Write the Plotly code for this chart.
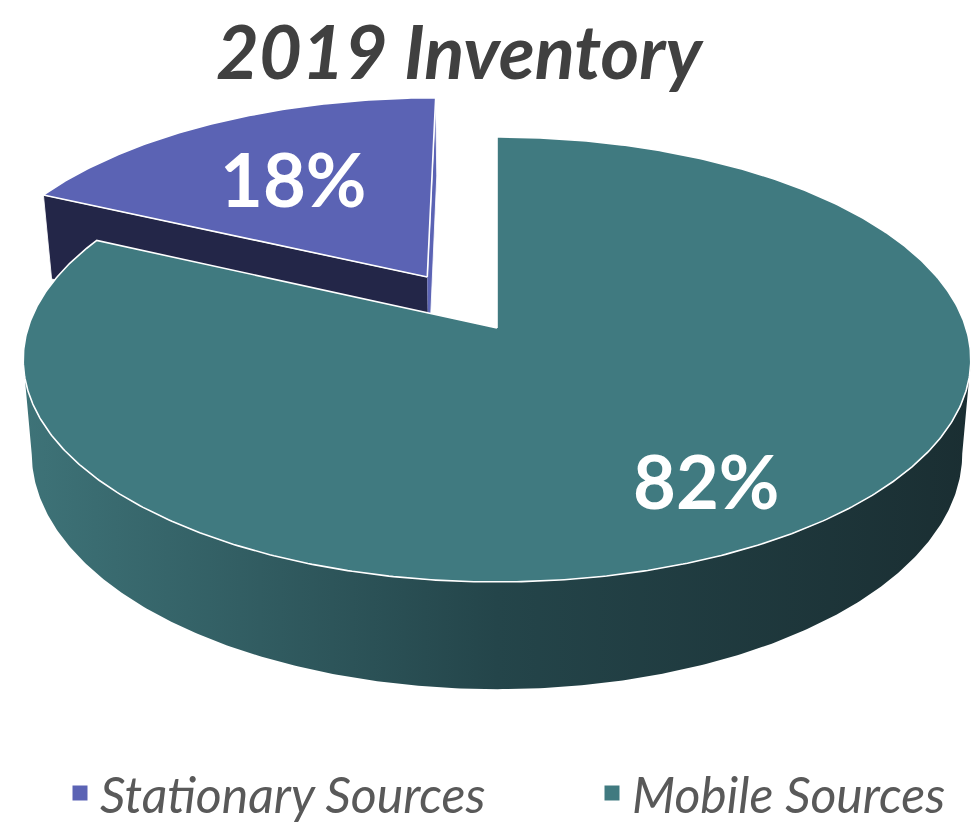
import numpy as np
import plotly.graph_objects as go

# ---------------- data ----------------
categories = ["Stationary Sources", "Mobile Sources"]
values = [18, 82]
pct_labels = ["18%", "82%"]
title_text = "2019 Inventory"

# ---------------- style ----------------
top_colors = ["#5b63b4", "#407a80"]
side_colors = ["#232648", "#2c5257"]
side_gradient = [[0.0, "#3e7378"], [0.5, "#24454a"], [1.0, "#1a2e32"]]
explode = [0.287, 0.0]
label_r = [0.61, 0.755]

W, H = 971, 830
CX, CY = 497, 328      # centre of the (unexploded) pie on the page
A, B = 469, 218        # ellipse semi-axes of the top face
K = 0.1416             # perspective strength
DEPTH = 92             # thickness of the pie
BOT_SCALE = 0.982      # bottom face appears slightly narrower
FONT = "Lato"


def proj(u, v, h=0.0):
    u = np.asarray(u, float)
    v = np.asarray(v, float)
    den = 1 - K * v
    s = 1 - (1 - BOT_SCALE) * h
    return CX + A * u * s / den, CY + (B * v + h * DEPTH) / den


def ring(theta):
    t = np.radians(theta)
    return np.sin(t), -np.cos(t)


total = float(sum(values))
start = -values[0] / total * 360.0
bounds = []
a0 = start
for val in values:
    a1 = a0 + val / total * 360.0
    bounds.append((a0, a1))
    a0 = a1

cam = np.array([0.0, 1.0 / K])

fig = go.Figure()
label_pos = []

for i, (t0, t1) in enumerate(bounds):
    tm = 0.5 * (t0 + t1)
    mu, mv = ring(tm)
    cu, cv = explode[i] * mu, explode[i] * mv
    n = max(int(abs(t1 - t0) * 2), 20)
    th = np.linspace(t0, t1, n)
    ru, rv = ring(th)
    ru = ru + cu
    rv = rv + cv

    # radial cut faces
    for edge, sign in ((t0, -1), (t1, 1)):
        er = np.radians(edge)
        nrm = sign * np.array([np.cos(er), np.sin(er)])
        if nrm @ (cam - np.array([cu, cv])) <= 1e-6:
            continue
        eu, ev = ring(edge)
        eu, ev = eu + cu, ev + cv
        xs_t, ys_t = proj([cu, eu], [cv, ev], 0)
        xs_b, ys_b = proj([eu, cu], [ev, cv], 1)
        col = side_colors[i] if sign < 0 else top_colors[i]
        fig.add_trace(go.Scatter(
            x=list(xs_t) + list(xs_b), y=list(ys_t) + list(ys_b),
            fill="toself", fillcolor=col, mode="lines",
            line=dict(color="rgba(255,255,255,0.85)", width=1),
            hoverinfo="skip", showlegend=False))

    # outer rim (visible front part)
    vis = (-1 - cu * np.sin(np.radians(th)) - np.cos(np.radians(th)) * (1 / K - cv)) > 0
    if vis.any():
        idx = np.where(vis)[0]
        su, sv = ru[idx], rv[idx]
        xt, yt = proj(su, sv, 0)
        xb, yb = proj(su[::-1], sv[::-1], 1)
        fig.add_trace(go.Scatter(
            x=list(xt) + list(xb), y=list(yt) + list(yb),
            fill="toself", mode="lines", line=dict(width=0),
            fillcolor=side_colors[i],
            fillgradient=dict(type="horizontal", colorscale=side_gradient) if i == 1 else None,
            hoverinfo="skip", showlegend=False))

    # top face
    xs, ys = proj(np.concatenate([[cu], ru, [cu]]), np.concatenate([[cv], rv, [cv]]), 0)
    fig.add_trace(go.Scatter(
        x=xs, y=ys, fill="toself", fillcolor=top_colors[i], mode="lines",
        line=dict(color="white", width=1.6),
        name=categories[i], hoverinfo="skip", showlegend=False))

    lx, ly = proj(cu + label_r[i] * mu, cv + label_r[i] * mv, 0)
    label_pos.append((float(lx), float(ly)))

# percentage labels
for i, (lx, ly) in enumerate(label_pos):
    fig.add_annotation(x=lx, y=ly, text=pct_labels[i], showarrow=False,
                       xanchor="center", yanchor="middle",
                       font=dict(family=FONT, size=74, color="white", weight="bold"))

# title
fig.add_annotation(x=460, y=50, text=title_text, showarrow=False,
                   xanchor="center", yanchor="middle",
                   font=dict(family=FONT, size=74, color="#404040",
                             weight="bold", style="italic"))

# legend entries (one legend per entry so each can be placed freely)
legend_x = [60, 592]
legend_names = ["legend", "legend2"]
for i, cat in enumerate(categories):
    fig.add_trace(go.Scatter(
        x=[None], y=[None], mode="markers", name=cat,
        marker=dict(symbol="square", size=15, color=top_colors[i]),
        legend=legend_names[i], showlegend=True))

leg_common = dict(orientation="h", xanchor="left",
                  y=1 - 793 / H, yanchor="middle",
                  font=dict(family=FONT, size=50, color="#595959", style="italic"),
                  bgcolor="rgba(0,0,0,0)")

fig.update_layout(
    width=W, height=H,
    margin=dict(l=0, r=0, t=0, b=0, autoexpand=False),
    paper_bgcolor="white", plot_bgcolor="white",
    xaxis=dict(range=[0, W], visible=False, fixedrange=True),
    yaxis=dict(range=[H, 0], visible=False, fixedrange=True),
    showlegend=True,
    legend=dict(x=legend_x[0] / W, **leg_common),
    legend2=dict(x=legend_x[1] / W, **leg_common),
)

fig.write_html("out.html",
               config={"displayModeBar": False, "staticPlot": True},
               post_script="document.body.style.margin='0px';document.body.style.overflow='hidden';")
